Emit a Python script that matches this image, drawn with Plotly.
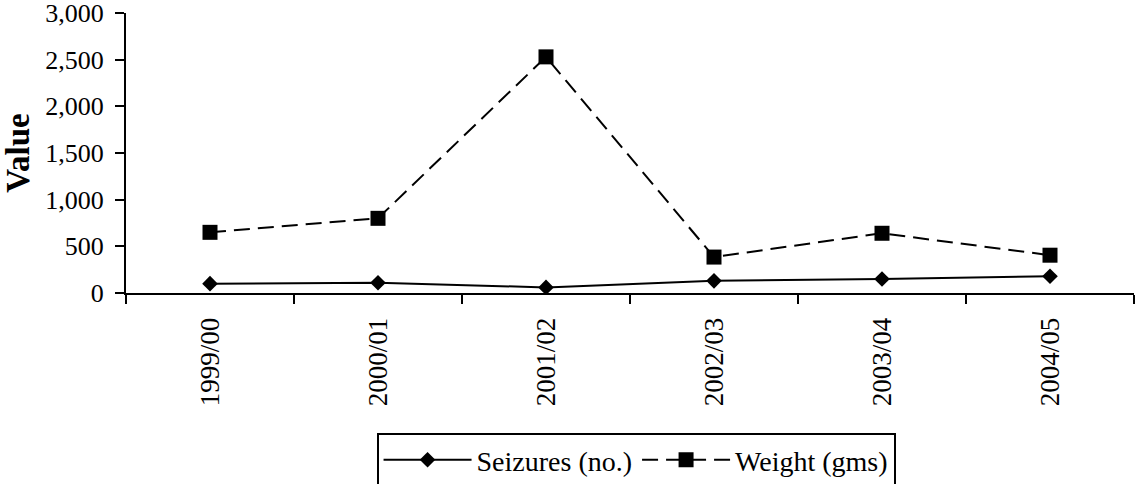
import plotly.graph_objects as go

categories = ["1999/00", "2000/01", "2001/02", "2002/03", "2003/04", "2004/05"]
seizures = [100, 110, 60, 130, 150, 180]
weight = [650, 800, 2530, 385, 640, 405]
y_ticks = [0, 500, 1000, 1500, 2000, 2500, 3000]
y_tick_labels = ["0", "500", "1,000", "1,500", "2,000", "2,500", "3,000"]

FONT = "Liberation Serif"

fig = go.Figure()
fig.add_trace(go.Scatter(
    x=categories, y=seizures, name="Seizures (no.)", mode="lines+markers",
    line=dict(color="black", width=2),
    marker=dict(symbol="diamond", size=12, color="black"),
))
fig.add_trace(go.Scatter(
    x=categories, y=weight, name="Weight (gms)", mode="lines+markers",
    line=dict(color="black", width=2, dash="16px,8px"),
    marker=dict(symbol="square", size=15, color="black"),
))

fig.update_layout(
    template="none",
    width=1140, height=484,
    margin=dict(l=126, r=6, t=13, b=191, autoexpand=False),
    plot_bgcolor="white", paper_bgcolor="white",
    font=dict(family=FONT, size=27, color="black"),
    showlegend=True,
    legend=dict(
        orientation="h", x=0.506, xanchor="center", y=-0.5, yanchor="top",
        bordercolor="black", borderwidth=2, itemwidth=88,
        font=dict(family=FONT, size=28, color="black"),
        tracegroupgap=0,
    ),
    xaxis=dict(
        type="category", range=[-0.5, 5.5],
        showline=True, linecolor="black", linewidth=2,
        ticks="outside", ticklen=9, tickwidth=2, tickcolor="black",
        tickson="boundaries", tickangle=-90, ticklabelstandoff=12,
        showgrid=False, zeroline=False,
        tickfont=dict(family=FONT, size=27, color="black"),
    ),
    yaxis=dict(
        range=[0, 3000], tickvals=y_ticks, ticktext=y_tick_labels,
        showline=True, linecolor="black", linewidth=2,
        ticks="outside", ticklen=9, tickwidth=2, tickcolor="black",
        showgrid=False, zeroline=False, ticklabeloverflow="allow",
        ticklabelstandoff=6,
        tickfont=dict(family=FONT, size=26, color="black"),
        title=dict(text="<b>Value</b>", font=dict(family=FONT, size=33, color="black"), standoff=16),
    ),
)

fig.write_html("out.html")
